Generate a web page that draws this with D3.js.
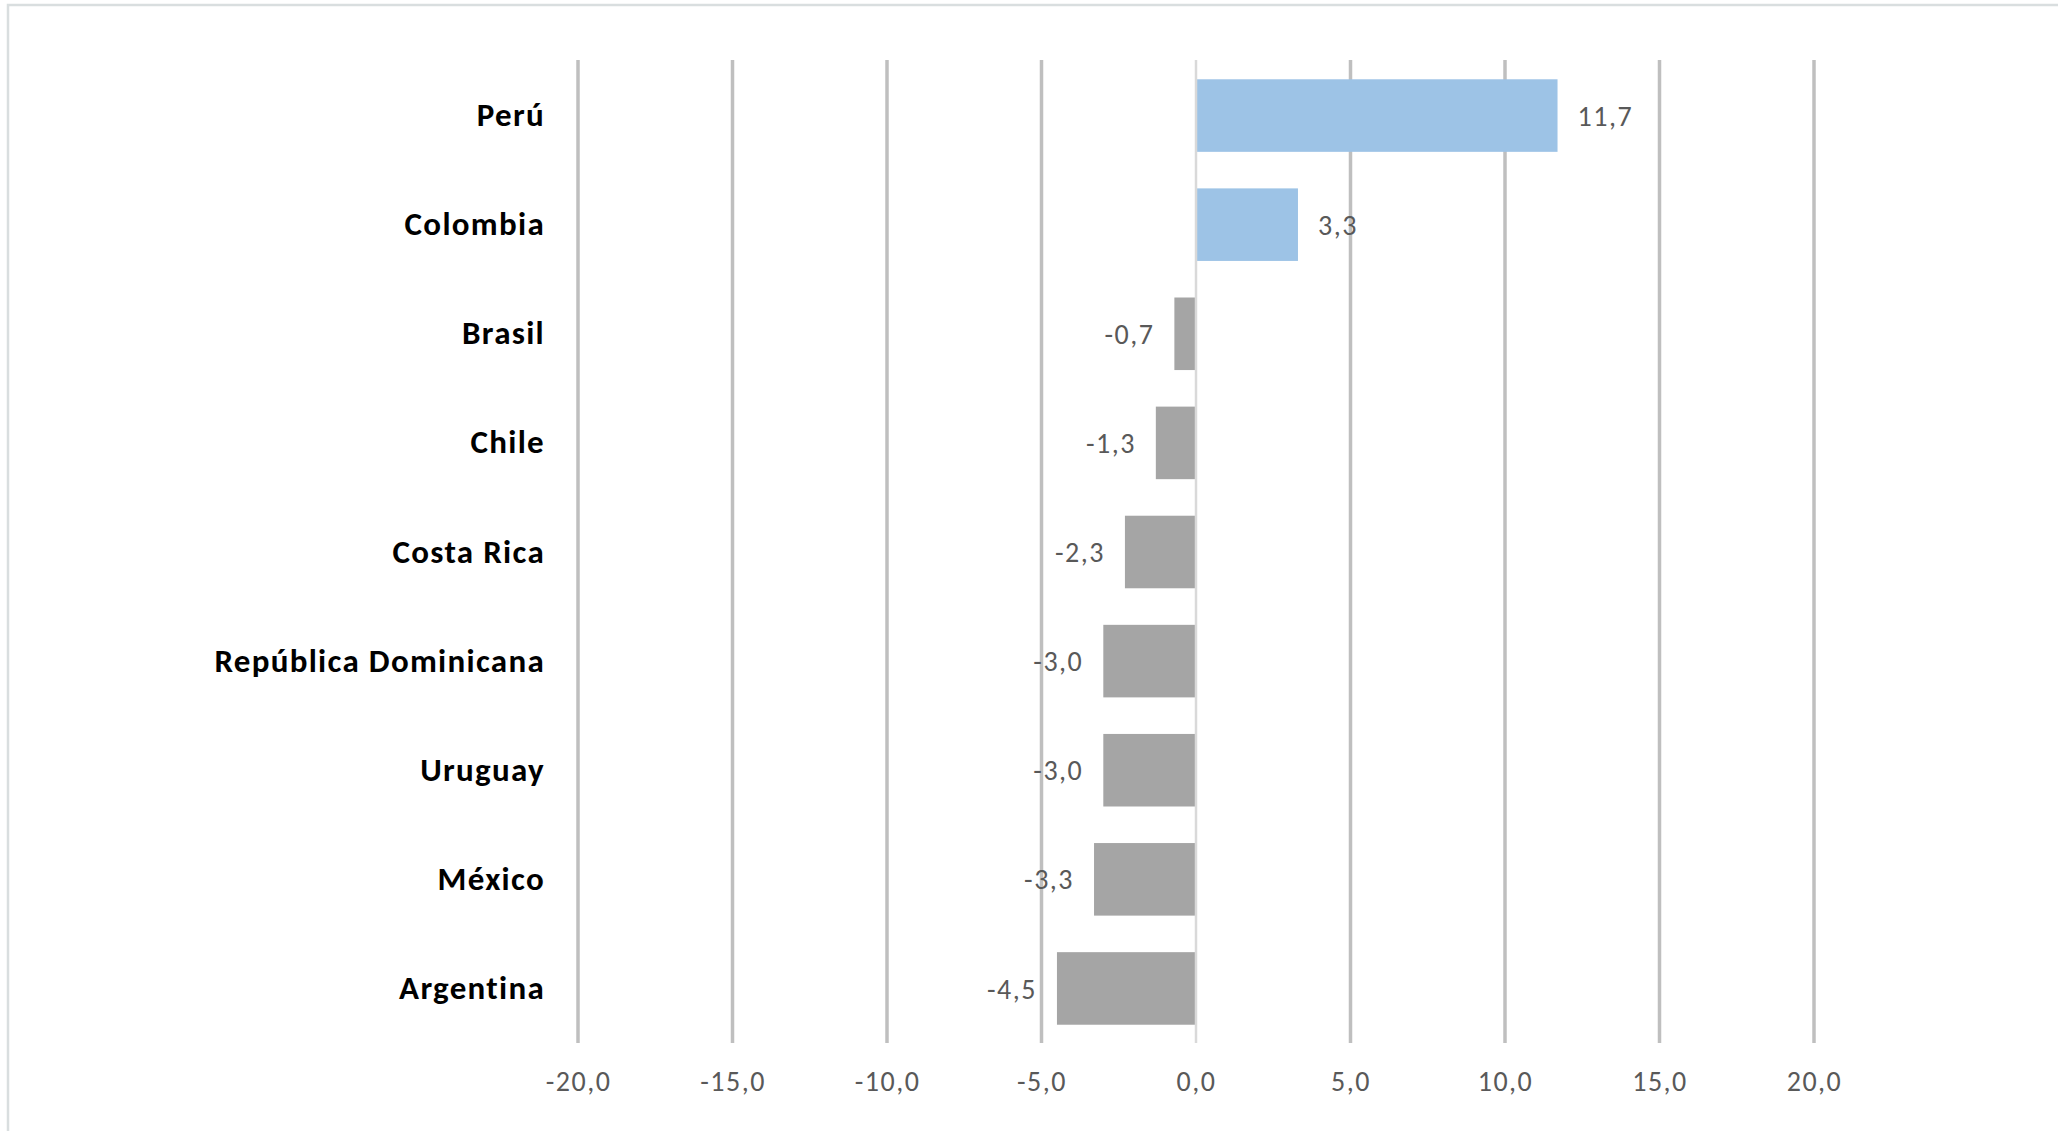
<!DOCTYPE html>
<html>
<head>
<meta charset="utf-8">
<script src="https://cdn.jsdelivr.net/npm/d3@7"></script>
<style>
  html, body { margin: 0; padding: 0; background: #fff; }
  svg { display: block; }
</style>
</head>
<body>
<script>
const categories = ["Perú", "Colombia", "Brasil", "Chile", "Costa Rica", "República Dominicana", "Uruguay", "México", "Argentina"];
const values = [11.7, 3.3, -0.7, -1.3, -2.3, -3.0, -3.0, -3.3, -4.5];
const tickValues = [-20, -15, -10, -5, 0, 5, 10, 15, 20];

const W = 2058, H = 1131;
const FONT = "Carlito, Lato, 'Liberation Sans', sans-serif";
const fmt = v => d3.format(".1f")(v).replace(".", ",").replace("−", "-");

const svg = d3.select("body").append("svg").attr("width", W).attr("height", H);

// chart area border
svg.append("rect")
  .attr("x", 8).attr("y", 5).attr("width", W + 50).attr("height", H + 50)
  .attr("fill", "none").attr("stroke", "#D9DEDF").attr("stroke-width", 2.5);

const x = d3.scaleLinear().domain([-20, 20]).range([578, 1814]);
const y = d3.scaleBand().domain(categories).range([61, 1043]).paddingInner(0.335).paddingOuter(0.1675);

// gridlines
svg.append("g").selectAll("line")
  .data(tickValues.filter(t => t !== 0))
  .join("line")
  .attr("x1", d => x(d)).attr("x2", d => x(d))
  .attr("y1", 60).attr("y2", 1043)
  .attr("stroke", "#BFBFBF").attr("stroke-width", 3.5);

// x tick labels via axis
const xAxis = svg.append("g")
  .attr("transform", "translate(0,1043)")
  .call(d3.axisBottom(x).tickValues(tickValues).tickSize(0).tickPadding(28).tickFormat(fmt));
xAxis.select(".domain").remove();
xAxis.selectAll("text")
  .attr("font-family", FONT).attr("font-size", 28).attr("letter-spacing", 1.5).attr("fill", "#595959");

// bars
svg.append("g").selectAll("rect")
  .data(values)
  .join("rect")
  .attr("x", d => x(Math.min(0, d)))
  .attr("width", d => Math.abs(x(d) - x(0)))
  .attr("y", (d, i) => y(categories[i]))
  .attr("height", y.bandwidth())
  .attr("fill", d => d >= 0 ? "#9DC3E6" : "#A5A5A5");

// zero axis line
svg.append("line")
  .attr("x1", x(0)).attr("x2", x(0))
  .attr("y1", 60).attr("y2", 1043)
  .attr("stroke", "#D9D9D9").attr("stroke-width", 2.5);

// value labels
svg.append("g").selectAll("text")
  .data(values)
  .join("text")
  .attr("x", d => d >= 0 ? x(d) + 20 : x(d) - 20)
  .attr("y", (d, i) => y(categories[i]) + y.bandwidth() / 2)
  .attr("dy", "0.36em")
  .attr("text-anchor", d => d >= 0 ? "start" : "end")
  .attr("font-family", FONT).attr("font-size", 28).attr("letter-spacing", 1.5).attr("fill", "#595959")
  .text(fmt);

// category labels via axis
const yAxis = svg.append("g")
  .attr("transform", "translate(545,0)")
  .call(d3.axisLeft(y).tickSize(0).tickPadding(0));
yAxis.select(".domain").remove();
yAxis.selectAll("text")
  .attr("font-family", FONT).attr("font-size", 33).attr("letter-spacing", 1.3).attr("font-weight", "bold").attr("fill", "#000");
</script>
</body>
</html>
